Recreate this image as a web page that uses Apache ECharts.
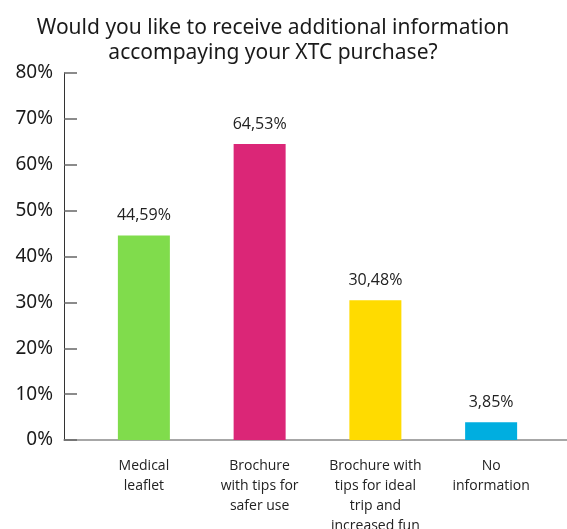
<!DOCTYPE html>
<html>
<head>
<meta charset="utf-8">
<script src="https://cdn.jsdelivr.net/npm/echarts@6/dist/echarts.min.js"></script>
<style>
  html, body { margin: 0; padding: 0; background: #fff; }
  #chart { width: 567px; height: 529px; }
</style>
</head>
<body>
<div id="chart"></div>
<script>
  // chart data
  const categories = [
    'Medical\nleaflet',
    'Brochure\nwith tips for\nsafer use',
    'Brochure with\ntips for ideal\ntrip and\nincreased fun',
    'No\ninformation',
  ];
  const values = [44.59, 64.53, 30.48, 3.85];
  const barColors = ['#80DC4C', '#DB2677', '#FFDB00', '#00AEE0'];
  const yTicks = [0, 10, 20, 30, 40, 50, 60, 70, 80];

  const chart = echarts.init(document.getElementById('chart'));

  chart.setOption({
    animation: false,
    title: {
      text: 'Would you like to receive additional information\naccompaying your XTC purchase?',
      left: 268,
      top: 11,
      textAlign: 'center',
      textStyle: {
        fontFamily: 'Noto Sans',
        fontWeight: 'normal',
        fontSize: 21,
        lineHeight: 25,
        color: '#1a1a1a',
      },
    },
    grid: [
      // axis frame
      { left: 64, right: 0, top: 73, bottom: 89, outerBoundsMode: 'none', containLabel: false },
      // bars
      { left: 86, right: 18, top: 73, bottom: 89, outerBoundsMode: 'none', containLabel: false },
    ],
    xAxis: [
      {
        type: 'value',
        gridIndex: 0,
        min: 0,
        max: 1,
        axisLine: { show: true, lineStyle: { color: '#8a8a8a', width: 1.5 } },
        axisTick: { show: false },
        axisLabel: { show: false },
        splitLine: { show: false },
      },
      {
        type: 'category',
        gridIndex: 1,
        data: categories,
        axisLine: { show: false },
        axisTick: { show: false },
        axisLabel: {
          margin: 16,
          interval: 0,
          fontFamily: 'Open Sans',
          fontSize: 14,
          lineHeight: 20,
          color: '#222',
        },
      },
    ],
    yAxis: [
      {
        type: 'value',
        gridIndex: 0,
        min: yTicks[0],
        max: yTicks[yTicks.length - 1],
        interval: 10,
        axisLine: { show: true, lineStyle: { color: '#333', width: 1 } },
        axisTick: { show: true, inside: true, length: 13, lineStyle: { color: '#666', width: 1.5 } },
        axisLabel: {
          formatter: '{value}%',
          margin: 11,
          fontFamily: 'Noto Sans',
          fontSize: 19,
          color: '#1a1a1a',
        },
        splitLine: { show: false },
      },
      {
        type: 'value',
        gridIndex: 1,
        min: yTicks[0],
        max: yTicks[yTicks.length - 1],
        interval: 10,
        show: false,
      },
    ],
    series: [
      {
        type: 'bar',
        xAxisIndex: 1,
        yAxisIndex: 1,
        barWidth: 52,
        data: values.map((v, i) => ({ value: v, itemStyle: { color: barColors[i] } })),
        label: {
          show: true,
          position: 'top',
          distance: 12,
          formatter: (p) => p.value.toFixed(2).replace('.', ',') + '%',
          fontFamily: 'Open Sans',
          fontSize: 16,
          color: '#222',
        },
      },
    ],
  });
</script>
</body>
</html>
